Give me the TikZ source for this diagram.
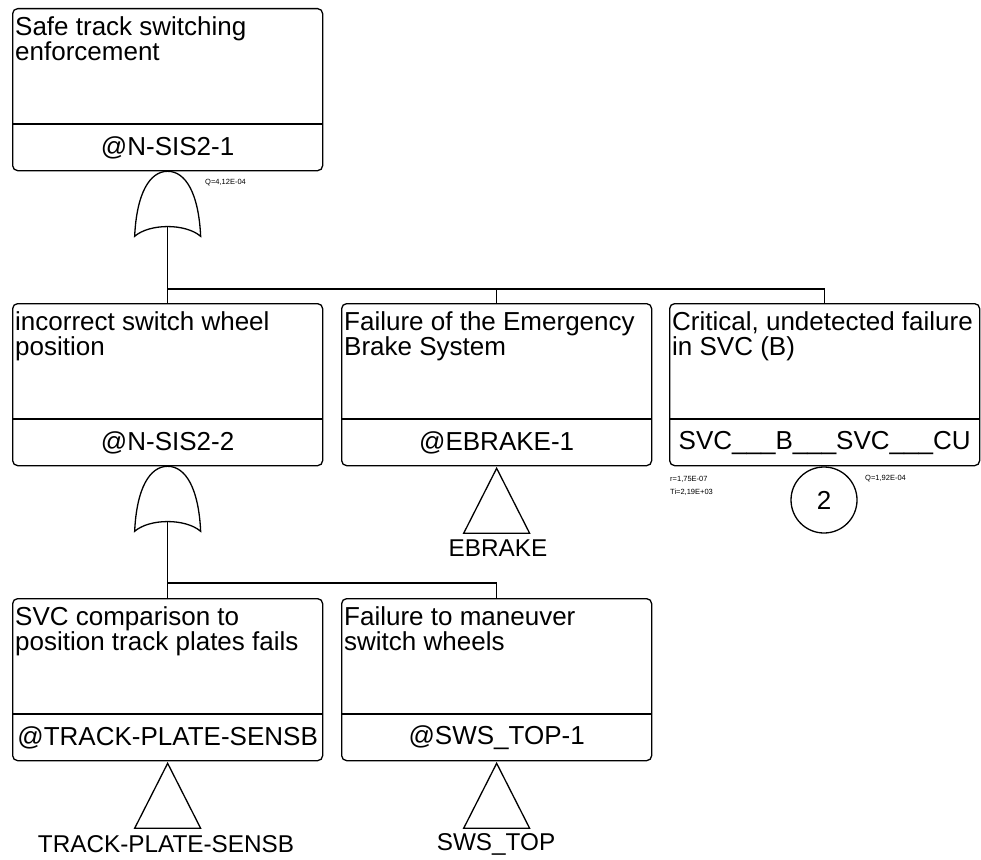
\documentclass[tikz,border=0pt]{standalone}
\usepackage{fontspec}
\setmainfont{Liberation Sans}
\begin{document}
\begin{tikzpicture}[x=1pt,y=-1pt,
  evbox/.style={draw, rounded corners=5pt, line width=1.3pt, minimum width=310pt, minimum height=162pt, inner sep=0pt, anchor=north west},
  desc/.style={anchor=north west, align=left, inner sep=0pt, font=\fontsize{26}{25.5}\selectfont},
  lbl/.style={inner sep=0pt, font=\fontsize{26}{26}\selectfont},
  trlbl/.style={inner sep=0pt, font=\fontsize{24.3}{26}\selectfont},
  tiny/.style={inner sep=0pt, anchor=west, font=\fontsize{7.5}{9}\selectfont, align=left},
  conn/.style={line width=1.2pt},
  orgate/.pic={
    \draw[line width=1.3pt] (-33,65) .. controls (-31,22) and (-18,0) .. (0,0)
       .. controls (18,0) and (31,22) .. (33,65)
       .. controls (18,52) and (-18,52) .. cycle;
    \coordinate (-top) at (0,0);
    \coordinate (-out) at (0,55);
  },
  transfer/.pic={
    \draw[line width=1.3pt] (0,0) -- (33,65) -- (-33,65) -- cycle;
    \coordinate (-top) at (0,0);
  }
]
\useasboundingbox (0,0) rectangle (981,859);

% boxes
\node[evbox] (b1) at (12,8) {};
\node[evbox] (b2a) at (12,303) {};
\node[evbox] (b2b) at (341,303) {};
\node[evbox] (b2c) at (669,303) {};
\node[evbox] (b3a) at (12,598) {};
\node[evbox] (b3b) at (341,598) {};

% dividers
\foreach \b in {b1,b2a,b2b,b2c,b3a,b3b}{
  \draw[line width=1.3pt] ([yshift=-116pt]\b.north west) -- ([yshift=-116pt]\b.north east);
}

% descriptions
\node[desc] (t1) at ([xshift=3pt,yshift=-8pt]b1.north west) {Safe track switching\\enforcement};
\node[desc] (t2a) at ([xshift=3pt,yshift=-8pt]b2a.north west) {incorrect switch wheel\\position};
\node[desc] (t2b) at ([xshift=3pt,yshift=-8pt]b2b.north west) {Failure of the Emergency\\Brake System};
\node[desc] (t2c) at ([xshift=3pt,yshift=-8pt]b2c.north west) {Critical, undetected failure\\in SVC (B)};
\node[desc] (t3a) at ([xshift=3pt,yshift=-8pt]b3a.north west) {SVC comparison to\\position track plates fails};
\node[desc] (t3b) at ([xshift=3pt,yshift=-8pt]b3b.north west) {Failure to maneuver\\switch wheels};

% labels
\node[lbl] (l1) at ([yshift=-140pt]b1.north) {@N-SIS2-1};
\node[lbl] (l2a) at ([yshift=-140pt]b2a.north) {@N-SIS2-2};
\node[lbl] (l2b) at ([yshift=-140pt]b2b.north) {@EBRAKE-1};
\node[lbl] (l2c) at ([yshift=-140pt]b2c.north) {SVC\_\_\_B\_\_\_SVC\_\_\_CU};
\node[lbl] (l3a) at ([yshift=-140pt]b3a.north) {@TRACK-PLATE-SENSB};
\node[lbl] (l3b) at ([yshift=-140pt]b3b.north) {@SWS\_TOP-1};

% gates
\pic (g1) at (b1.south) {orgate};
\pic (g2) at (b2a.south) {orgate};
\node[tiny] (q1) at (205,183) {Q=4,12E-04};

% connectors
\coordinate (bus1) at (167,289);
\coordinate (bus2) at (167,583);
\draw[conn] (g1-out) -- (b2a.north);
\draw[conn] (bus1) -| (b2b.north);
\draw[conn] (bus1) -| (b2c.north);
\draw[conn] (g2-out) -- (b3a.north);
\draw[conn] (bus2) -| (b3b.north);

% transfers
\pic (tr1) at ([yshift=-2pt]b2b.south) {transfer};
\node[trlbl] (e1) at (498,548) {EBRAKE};
\pic (tr2) at ([yshift=-2pt]b3a.south) {transfer};
\node[trlbl] (e2) at (166,844) {TRACK-PLATE-SENSB};
\pic (tr3) at ([yshift=-2pt]b3b.south) {transfer};
\node[trlbl] (e3) at (496,844) {SWS\_TOP};

% basic event circle
\node[draw, circle, line width=1.3pt, minimum size=66pt, inner sep=0pt, font=\fontsize{26}{26}\selectfont] (c1) at (824,500) {2};
\node[tiny] (r1) at (670,479) {r=1,75E-07};
\node[tiny] (r2) at (670,492) {Ti=2,19E+03};
\node[tiny] (q2) at (865,479) {Q=1,92E-04};
\end{tikzpicture}
\end{document}
